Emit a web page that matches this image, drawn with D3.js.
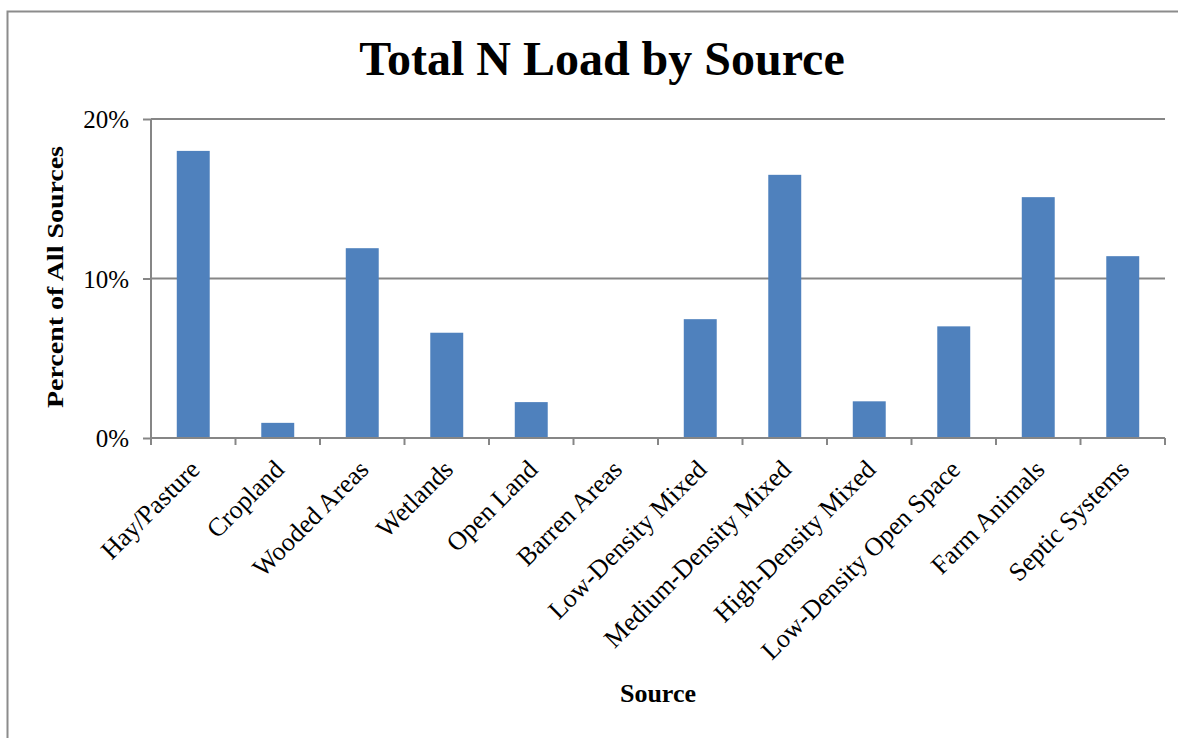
<!DOCTYPE html>
<html>
<head>
<meta charset="utf-8">
<script src="https://cdn.jsdelivr.net/npm/d3@7"></script>
<style>
  body { margin: 0; background: #fff; }
  text { font-family: "Liberation Serif", "Times New Roman", serif; fill: #000; }
</style>
</head>
<body>
<script>
// chart data
var sources = ["Hay/Pasture", "Cropland", "Wooded Areas", "Wetlands", "Open Land",
               "Barren Areas", "Low-Density Mixed", "Medium-Density Mixed",
               "High-Density Mixed", "Low-Density Open Space", "Farm Animals", "Septic Systems"];
var percents = [18.0, 0.95, 11.9, 6.6, 2.25, 0, 7.45, 16.5, 2.3, 7.0, 15.1, 11.4];
var yTicks = [0, 10, 20];

var width = 1178, height = 738;
var margin = {top: 119, right: 13, bottom: 300, left: 151};

var svg = d3.select("body").append("svg")
    .attr("width", width)
    .attr("height", height);

// outer chart frame (runs off the right and bottom edges)
svg.append("rect")
    .attr("x", 7.5).attr("y", 11.5)
    .attr("width", 1300).attr("height", 900)
    .attr("fill", "none")
    .attr("stroke", "#8c8c8c")
    .attr("stroke-width", 2);

var x = d3.scaleBand().domain(sources)
    .range([margin.left, width - margin.right])
    .paddingInner(0.61).paddingOuter(0.305);

var y = d3.scaleLinear().domain([0, 20])
    .range([438, margin.top]);

// gridlines
svg.append("g")
    .selectAll("line")
    .data(yTicks.filter(function(d) { return d > 0; }))
    .enter().append("line")
    .attr("x1", margin.left).attr("x2", width - margin.right)
    .attr("y1", function(d) { return y(d); })
    .attr("y2", function(d) { return y(d); })
    .attr("stroke", "#868686")
    .attr("stroke-width", 2);

// bars
svg.append("g")
    .selectAll("rect")
    .data(percents)
    .enter().append("rect")
    .attr("x", function(d, i) { return x(sources[i]); })
    .attr("y", function(d) { return y(d); })
    .attr("width", x.bandwidth())
    .attr("height", function(d) { return y(0) - y(d); })
    .attr("fill", "#4f81bd");

// y axis
var yAxis = svg.append("g")
    .attr("transform", "translate(" + margin.left + ",0)")
    .call(d3.axisLeft(y).tickValues(yTicks).tickSize(8).tickPadding(14)
      .tickFormat(function(d) { return d + "%"; }));
yAxis.select(".domain").attr("stroke", "#868686").attr("stroke-width", 2)
    .attr("d", "M0," + y(20) + "V" + y(0));
yAxis.selectAll(".tick line").attr("stroke", "#868686").attr("stroke-width", 2);
yAxis.selectAll(".tick text")
    .style("font-family", "Liberation Serif, serif")
    .style("font-size", "25px")
    .attr("dy", "0.35em");

// x axis: ticks at category boundaries
var xAxis = svg.append("g");
xAxis.append("line")
    .attr("x1", margin.left).attr("x2", width - margin.right)
    .attr("y1", y(0)).attr("y2", y(0))
    .attr("stroke", "#868686").attr("stroke-width", 2);
var step = x.step();
xAxis.selectAll(".xtick")
    .data(d3.range(sources.length + 1))
    .enter().append("line")
    .attr("class", "xtick")
    .attr("x1", function(i) { return x(sources[0]) - x.paddingOuter() * step + i * step; })
    .attr("x2", function(i) { return x(sources[0]) - x.paddingOuter() * step + i * step; })
    .attr("y1", y(0)).attr("y2", y(0) + 7)
    .attr("stroke", "#868686").attr("stroke-width", 2);

xAxis.selectAll(".xlabel")
    .data(sources)
    .enter().append("text")
    .attr("class", "xlabel")
    .attr("text-anchor", "end")
    .attr("transform", function(d) {
      return "translate(" + (x(d) + x.bandwidth() / 2 + 8) + "," + (y(0) + 33) + ") rotate(-45)";
    })
    .style("font-size", "26px")
    .text(function(d) { return d; });

// title
svg.append("text")
    .attr("x", 602).attr("y", 75)
    .attr("text-anchor", "middle")
    .style("font-weight", "bold")
    .style("font-size", "48px")
    .text("Total N Load by Source");

// axis titles
svg.append("text")
    .attr("transform", "translate(63,277) rotate(-90)")
    .attr("text-anchor", "middle")
    .attr("textLength", 262)
    .attr("lengthAdjust", "spacingAndGlyphs")
    .style("font-weight", "bold")
    .style("font-size", "23px")
    .text("Percent of All Sources");

svg.append("text")
    .attr("x", 658).attr("y", 702)
    .attr("text-anchor", "middle")
    .style("font-weight", "bold")
    .style("font-size", "26px")
    .text("Source");
</script>
</body>
</html>
